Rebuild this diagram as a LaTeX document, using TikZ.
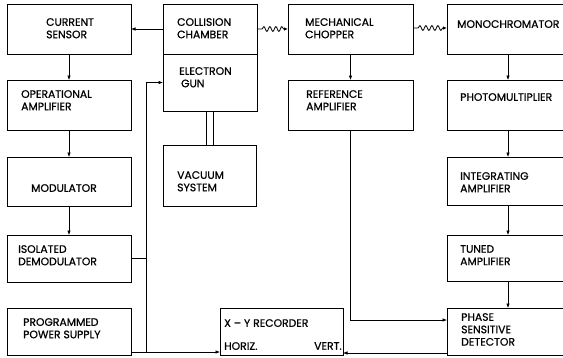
\documentclass[tikz,border=0pt]{standalone}
\usepackage{fontspec}
\setmainfont{Poppins}[FakeBold=0.7]
\usepackage{tikz}
\usetikzlibrary{arrows.meta, positioning, calc, decorations.pathmorphing}

\tikzset{
  blk/.style={draw, line width=0.9pt, inner sep=0pt, outer sep=0pt, anchor=north west},
  lbl/.style={anchor=north west, inner sep=0pt, align=left, font=\fontsize{10.8}{12.4}\selectfont},
  arr/.style={line width=0.6pt, -{Latex[length=4.5pt,width=3.5pt]}},
  wire/.style={line width=0.6pt},
  wavy/.style={line width=0.8pt, -{Latex[length=4pt,width=3.5pt]},
    decorate, decoration={snake, amplitude=2.4pt, segment length=6pt, pre length=5pt, post length=3pt}}
}

\begin{document}
\begin{tikzpicture}[x=1pt, y=-1pt]
    \useasboundingbox (0,0) rectangle (563,357);
    \clip (0,0) rectangle (563,357);

    % Left column
    \node[blk, minimum width=124pt, minimum height=50pt] (cs) at (7,4) {};
    \node[blk, minimum width=124pt, minimum height=50pt] (opamp) at (7,80) {};
    \node[blk, minimum width=124pt, minimum height=49pt] (mod) at (7,157) {};
    \node[blk, minimum width=124pt, minimum height=47pt] (demod) at (7,235) {};
    \node[blk, minimum width=124pt, minimum height=47pt] (pps) at (7,308) {};

    % Collision chamber, gun and vacuum
    \node[blk, minimum width=94pt, minimum height=50pt] (cc) at (163,4) {};
    \node[blk, minimum width=94pt, minimum height=57pt] (eg) at (163,54) {};
    \node[blk, minimum width=93pt, minimum height=61pt] (vac) at (163,145) {};

    % Chopper and reference
    \node[blk, minimum width=125pt, minimum height=50pt] (chop) at (288,4) {};
    \node[blk, minimum width=125pt, minimum height=50pt] (ref) at (288,80) {};

    % Recorder
    \node[blk, minimum width=123pt, minimum height=47pt] (xy) at (220,308) {};

    % Right column (runs off the right edge)
    \node[blk, minimum width=122pt, minimum height=50pt] (mono) at (447,4) {};
    \node[blk, minimum width=122pt, minimum height=50pt] (pm) at (447,80) {};
    \node[blk, minimum width=122pt, minimum height=48pt] (intamp) at (447,157) {};
    \node[blk, minimum width=122pt, minimum height=46pt] (tuned) at (447,235) {};
    \node[blk, minimum width=122pt, minimum height=47pt] (psd) at (447,308) {};

    % Labels
    \node[lbl] (t-cs) at (46,18) {CURRENT\\SENSOR};
    \node[lbl] (t-opamp) at (21,90) {OPERATIONAL\\AMPLIFIER};
    \node[lbl] (t-mod) at (31,184) {MODULATOR};
    \node[lbl] (t-demod) at (18,245) {ISOLATED\\DEMODULATOR};
    \node[lbl] (t-pps) at (23,318) {PROGRAMMED\\POWER SUPPLY};
    \node[lbl] (t-cc) at (177,18) {COLLISION\\CHAMBER};
    \node[lbl] (t-eg) at (179,67) {ELECTRON\\\hspace*{2pt}GUN};
    \node[lbl] (t-vac) at (177,171) {VACUUM\\SYSTEM};
    \node[lbl] (t-chop) at (305,18) {MECHANICAL\\CHOPPER};
    \node[lbl] (t-ref) at (306,90) {REFERENCE\\AMPLIFIER};
    \node[lbl] (t-xy) at (224,319) {X -- Y RECORDER};
    \node[lbl] (t-horiz) at (224,342) {HORIZ.};
    \node[lbl] (t-vert) at (314,342) {VERT.};
    \node[lbl] (t-mono) at (457,20) {MONOCHROMATOR};
    \node[lbl] (t-pm) at (460,93) {PHOTOMULTIPLIER};
    \node[lbl] (t-int) at (460,172) {INTEGRATING\\AMPLIFIER};
    \node[lbl] (t-tuned) at (460,245) {TUNED\\AMPLIFIER};
    \node[lbl] (t-psd) at (461,313) {PHASE\\SENSITIVE\\DETECTOR};

    % Left chain
    \draw[arr] (cc.west) -- (cs.east);
    \draw[arr] (cs.south) -- (opamp.north);
    \draw[arr] (opamp.south) -- (mod.north);
    \draw[arr] (mod.south) -- (demod.north);

    % Supply bus
    \coordinate (bus) at (146,352);
    \draw[arr] (pps.east |- bus) -- (xy.west |- bus);
    \draw[arr] (bus) |- (eg.west);
    \draw[wire] (demod.east) -- (demod.east -| bus);

    % Gun to vacuum
    \draw[wire] ([xshift=-3.5pt]eg.south) -- ([xshift=-3.5pt]eg.south |- vac.north);
    \draw[wire] ([xshift=3.5pt]eg.south) -- ([xshift=3.5pt]eg.south |- vac.north);

    % Light path
    \draw[wavy] (cc.east) -- (chop.west);
    \draw[wavy] (chop.east |- 0,28) -- (mono.west |- 0,28);

    % Reference path
    \draw[arr] (chop.south) -- (ref.north);
    \coordinate (refin) at (447,320);
    \draw[arr] (ref.south) |- (refin);

    % Right chain
    \coordinate (rc) at (508,0);
    \draw[arr] (mono.south -| rc) -- (pm.north -| rc);
    \draw[arr] (pm.south -| rc) -- (intamp.north -| rc);
    \draw[arr] (intamp.south -| rc) -- (tuned.north -| rc);
    \draw[arr] (tuned.south -| rc) -- (psd.north -| rc);

    % Output to recorder
    \coordinate (vout) at (447,353);
    \draw[arr] (vout) -- (xy.east |- vout);
\end{tikzpicture}
\end{document}
